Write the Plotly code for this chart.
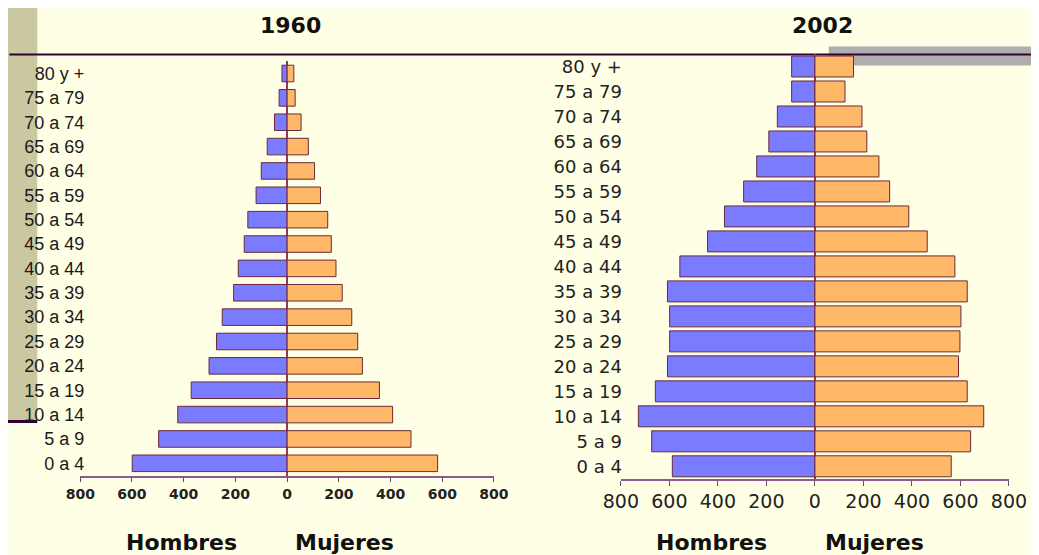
import plotly.graph_objects as go

W, H = 1039, 555

ages = ["0 a 4", "5 a 9", "10 a 14", "15 a 19", "20 a 24", "25 a 29", "30 a 34",
        "35 a 39", "40 a 44", "45 a 49", "50 a 54", "55 a 59", "60 a 64",
        "65 a 69", "70 a 74", "75 a 79", "80 y +"]
men_1960 = [599, 497, 423, 371, 302, 273, 251, 207, 189, 166, 152, 120, 100, 77, 49, 31, 20]
women_1960 = [582, 479, 408, 357, 291, 273, 250, 213, 189, 171, 157, 129, 106, 82, 54, 31, 26]
men_2002 = [588, 673, 728, 658, 608, 599, 599, 608, 557, 443, 373, 294, 240, 190, 155, 96, 96]
women_2002 = [562, 642, 696, 628, 592, 598, 602, 628, 577, 463, 387, 308, 264, 214, 194, 124, 159]
tick_vals = [-800, -600, -400, -200, 0, 200, 400, 600, 800]
tick_text = ["800", "600", "400", "200", "0", "200", "400", "600", "800"]

BLUE = "#7B7BFF"
ORANGE = "#FFB868"
OUTLINE = "#6A2A3A"
BG = "#FFFFE6"
DARK = "#330033"

# calibration of the rendered page (paper placement in the screenshot)
BX, AX, DY = 24.7, 0.966, 8.0

def px(x):
    return (x - BX) / (AX * W)

def py(y):
    return 1 - (y - DY) / H

fig = go.Figure()
for men, women, xa, ya, w in [(men_1960, women_1960, "x", "y", 0.68),
                               (men_2002, women_2002, "x2", "y2", 0.84)]:
    fig.add_trace(go.Bar(y=ages, x=[-v for v in men], orientation="h", xaxis=xa, yaxis=ya,
                         width=w, marker=dict(color=BLUE, line=dict(color=OUTLINE, width=1)),
                         name="Hombres", showlegend=False))
    fig.add_trace(go.Bar(y=ages, x=women, orientation="h", xaxis=xa, yaxis=ya,
                         width=w, marker=dict(color=ORANGE, line=dict(color=OUTLINE, width=1)),
                         name="Mujeres", showlegend=False))

xcommon = dict(range=[-800, 800], tickvals=tick_vals, ticktext=tick_text, showgrid=False,
               zeroline=True, zerolinecolor="#993366", zerolinewidth=1.5,
               showline=True, linecolor="#8E5A8E", linewidth=1.5,
               ticks="outside", ticklen=5, tickcolor="#6A4A6A", tickwidth=1.2,
               layer="above traces", fixedrange=True)
ycommon = dict(type="category", range=[-0.5, 16.5], showgrid=False, zeroline=False,
               showline=False, ticks="", fixedrange=True)

fig.update_layout(
    width=W, height=H, margin=dict(l=0, r=0, t=0, b=0),
    paper_bgcolor=BG, plot_bgcolor="rgba(0,0,0,0)", barmode="relative",
    xaxis=dict(xcommon, domain=[px(79), px(493)], anchor="y",
               tickfont=dict(family="DejaVu Sans", size=14, color="#222222", weight="bold")),
    yaxis=dict(ycommon, domain=[py(475.5), py(61.3)], anchor="x", ticklabelstandoff=-5,
               tickfont=dict(family="Liberation Sans", size=18, color="#1a1a1a")),
    xaxis2=dict(xcommon, domain=[px(620), px(1008.3)], anchor="y2",
                tickfont=dict(family="DejaVu Sans", size=19, color="#222222")),
    yaxis2=dict(ycommon, domain=[py(478.8), py(54)], anchor="x2", ticklabelstandoff=-2,
                tickfont=dict(family="DejaVu Sans", size=18, color="#222222")),
    shapes=[
        dict(type="rect", xref="paper", yref="paper", x0=px(0), x1=px(36), y0=py(421), y1=py(0),
             fillcolor="#CAC8A0", line=dict(width=0), layer="below"),
        dict(type="line", xref="paper", yref="paper", x0=px(0), x1=px(36), y0=py(421.5), y1=py(421.5),
             line=dict(color=DARK, width=3), layer="below"),
        dict(type="rect", xref="paper", yref="paper", x0=px(828), x1=px(1039), y0=py(65.5), y1=py(46.5),
             fillcolor="#AEAEAE", line=dict(width=0), layer="below"),
        dict(type="line", xref="paper", yref="paper", x0=px(8), x1=px(1039), y0=py(54.5), y1=py(54.5),
             line=dict(color=DARK, width=2), layer="below"),
    ],
)

annots = [("1960", 289, 25), ("2002", 822, 25),
          ("Hombres", 180, 542), ("Mujeres", 343, 542),
          ("Hombres", 711, 542), ("Mujeres", 874, 542)]
for text, x, y in annots:
    fig.add_annotation(text=text, x=px(x), y=py(y), xref="paper", yref="paper",
                       showarrow=False, xanchor="center", yanchor="middle",
                       font=dict(family="DejaVu Sans", size=22, color="#111111", weight="bold"))

fig.write_html("out.html")
